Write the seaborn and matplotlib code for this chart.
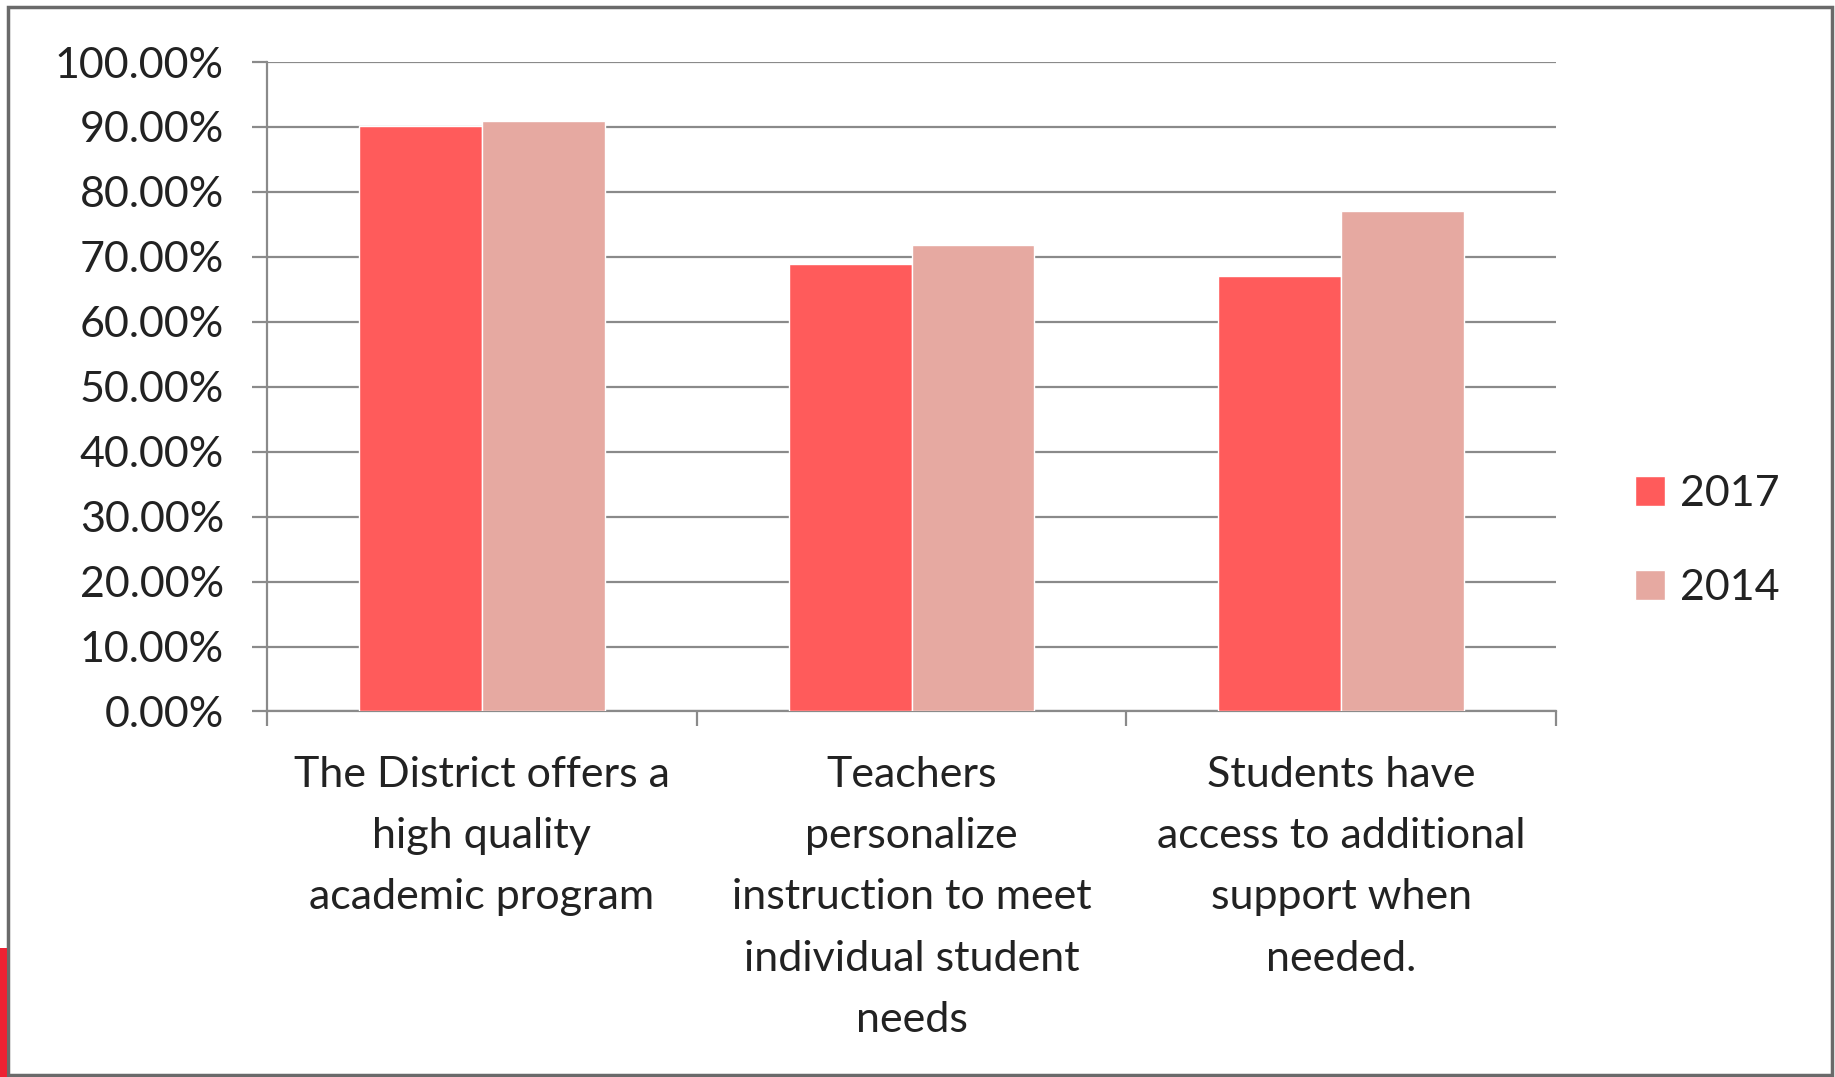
import pandas as pd
import matplotlib.pyplot as plt
import seaborn as sns
from matplotlib.patches import Rectangle
from matplotlib.ticker import FuncFormatter

# Survey results
categories = [
    "The District offers a\nhigh quality\nacademic program",
    "Teachers\npersonalize\ninstruction to meet\nindividual student\nneeds",
    "Students have\naccess to additional\nsupport when\nneeded.",
]
years = ["2017", "2014"]
values_2017 = [90.2, 68.9, 67.1]
values_2014 = [90.9, 71.9, 77.0]

data = pd.DataFrame(
    {
        "Category": categories * 2,
        "Year": [years[0]] * 3 + [years[1]] * 3,
        "Value": values_2017 + values_2014,
    }
)

sns.set_style("white")
plt.rcParams["font.family"] = ["Lato", "DejaVu Sans"]

fig = plt.figure(figsize=(18.35, 10.77), dpi=100)
ax = fig.add_axes([0.1455, 0.3394, 0.7025, 0.603])

sns.barplot(
    data=data,
    x="Category",
    y="Value",
    hue="Year",
    palette={"2017": "#FF5B5B", "2014": "#E6A9A1"},
    width=0.572,
    saturation=1,
    errorbar=None,
    ax=ax,
    zorder=3,
)

ax.set_ylim(0, 100)
ax.set_xlim(-0.5, 2.5)
ax.set_yticks(range(0, 101, 10))
ax.yaxis.set_major_formatter(FuncFormatter(lambda v, p: f"{v:.2f}%"))
ax.set_xlabel("")
ax.set_ylabel("")

# gridlines and axes in Excel style
ax.grid(axis="y", color="#8a8a8a", linewidth=1.6, zorder=0)
for s in ["top", "right"]:
    ax.spines[s].set_visible(False)
for s in ["left", "bottom"]:
    ax.spines[s].set_color("#8a8a8a")
    ax.spines[s].set_linewidth(1.6)

ax.tick_params(axis="y", labelsize=31, colors="#8a8a8a", labelcolor="#222222",
               length=11, width=1.6, direction="out", pad=20, left=True)
ax.set_xticks([0, 1, 2])
ax.set_xticklabels(categories, fontsize=31, color="#222222", linespacing=1.75)
ax.tick_params(axis="x", length=0, pad=32)
ax.set_xticks([-0.5, 0.5, 1.5, 2.5], minor=True)
ax.tick_params(axis="x", which="minor", length=11, width=1.6, colors="#8a8a8a",
               direction="out", bottom=True)

leg = ax.legend(
    loc="center left",
    bbox_to_anchor=(1.031, 0.263),
    frameon=False,
    fontsize=31,
    handlelength=0.7,
    handleheight=0.7,
    handletextpad=0.35,
    labelspacing=1.3,
)
for t in leg.get_texts():
    t.set_color("#222222")

# outer frame and red strip at the bottom left
fig.patches.append(Rectangle((8 / 1835, 2 / 1077), 1824 / 1835, 1068 / 1077,
                             transform=fig.transFigure, fill=False,
                             edgecolor="#6a6a6a", linewidth=2.5))
fig.patches.append(Rectangle((0, 0), 7 / 1835, 129 / 1077,
                             transform=fig.transFigure, facecolor="#EE2233",
                             edgecolor="none"))

fig.savefig("out.png", dpi=100)
